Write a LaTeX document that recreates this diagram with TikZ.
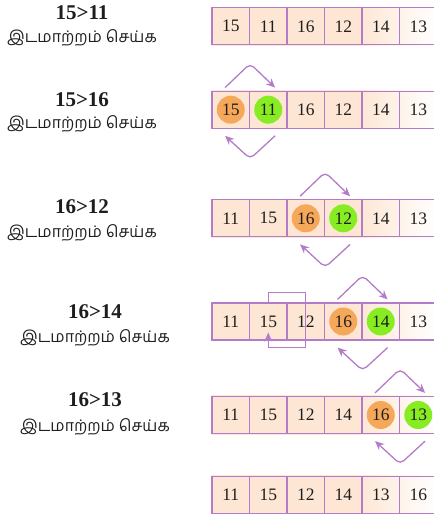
\documentclass[tikz,border=0pt]{standalone}
\usepackage{fontspec}
\setmainfont{Liberation Serif}
\newfontfamily\tamilfont[Script=Tamil]{Hind Madurai}
\usetikzlibrary{arrows.meta,calc}
\definecolor{Edge}{HTML}{B47CC8}
\definecolor{Peach}{HTML}{FDE6D3}
\definecolor{Hot}{HTML}{F6A85A}
\definecolor{Cool}{HTML}{88EC22}
\definecolor{Ink}{HTML}{1E1E1E}
\pgfdeclarehorizontalshading{rowfade}{100bp}{color(0bp)=(Peach); color(57bp)=(Peach); color(75bp)=(white); color(100bp)=(white)}
\pgfdeclarelayer{back}
\pgfdeclarelayer{disc}
\pgfsetlayers{back,disc,main}
\tikzset{
  cell/.style={draw=Edge,line width=1.2pt,minimum width=37.5pt,minimum height=37pt,inner sep=0pt,text=Ink,font=\fontsize{17.5}{20}\selectfont},
  hot/.style={circle,fill=Hot,minimum size=28pt,inner sep=0pt},
  cool/.style={circle,fill=Cool,minimum size=28pt,inner sep=0pt},
  cmp/.style={text=Ink,font=\bfseries\fontsize{21}{24}\selectfont},
  note/.style={text=Ink,font=\tamilfont\fontsize{16}{19}\selectfont},
  swaparrow/.style={-{Stealth[length=9pt,width=8pt]},draw=Edge,line width=1.3pt,rounded corners=5pt},
  loopback/.style={-{Stealth[length=9pt,width=8pt]},draw=Edge,line width=1.3pt}
}

\begin{document}
\begin{tikzpicture}[x=1pt,y=-1pt]
  \useasboundingbox (0,0) rectangle (433,518);

  % the six rows of the list
  \foreach \r/\y/\vals in {1/26.3/{15,11,16,12,14,13},2/109.7/{15,11,16,12,14,13},
      3/218.3/{11,15,16,12,14,13},4/321.5/{11,15,12,16,14,13},
      5/415/{11,15,12,14,16,13},6/494.7/{11,15,12,14,13,16}}
    \foreach \v [count=\k] in \vals
      \node[cell] (c\r\k) at ({212+37.5*(\k-0.5)},\y) {\v};

  \begin{pgfonlayer}{back}
    \foreach \r in {1,...,6}
      \shade[shading=rowfade] (c\r1.north west) rectangle (c\r6.south east);
  \end{pgfonlayer}

  % compared pair
  \begin{pgfonlayer}{disc}
    \node[hot] (h2) at (c21) {};
    \node[cool] (g2) at (c22) {};
    \node[hot] (h3) at (c33) {};
    \node[cool] (g3) at (c34) {};
    \node[hot] (h4) at (c44) {};
    \node[cool] (g4) at (c45) {};
    \node[hot] (h5) at (c55) {};
    \node[cool] (g5) at (c56) {};
  \end{pgfonlayer}

  % labels
  \node[cmp] (q1) at (82,12.5) {15>11};
  \node[note] (n1) at (82,38) {இடமாற்றம் செய்க};
  \node[cmp] (q2) at (82,99.7) {15>16};
  \node[note] (n2) at (82,123.5) {இடமாற்றம் செய்க};
  \node[cmp] (q3) at (82,206.7) {16>12};
  \node[note] (n3) at (82,233) {இடமாற்றம் செய்க};
  \node[cmp] (q4) at (95,312) {16>14};
  \node[note] (n4) at (95,338) {இடமாற்றம் செய்க};
  \node[cmp] (q5) at (95,400) {16>13};
  \node[note] (n5) at (95,427) {இடமாற்றம் செய்க};

  % swaps
  \draw[swaparrow] ([shift={(-25pt,3pt)}]c21.north east) -- ([yshift=27pt]c21.north east) -- ([shift={(25pt,3pt)}]c21.north east);
  \draw[swaparrow] ([shift={(25pt,-7pt)}]c21.south east) -- ([yshift=-30pt]c21.south east) -- ([shift={(-25pt,-7pt)}]c21.south east);
  \draw[swaparrow] ([shift={(-25pt,3pt)}]c33.north east) -- ([yshift=27pt]c33.north east) -- ([shift={(25pt,3pt)}]c33.north east);
  \draw[swaparrow] ([shift={(25pt,-7pt)}]c33.south east) -- ([yshift=-30pt]c33.south east) -- ([shift={(-25pt,-7pt)}]c33.south east);
  \draw[swaparrow] ([shift={(-25pt,3pt)}]c44.north east) -- ([yshift=27pt]c44.north east) -- ([shift={(25pt,3pt)}]c44.north east);
  \draw[swaparrow] ([shift={(25pt,-7pt)}]c44.south east) -- ([yshift=-30pt]c44.south east) -- ([shift={(-25pt,-7pt)}]c44.south east);
  \draw[swaparrow] ([shift={(-25pt,3pt)}]c55.north east) -- ([yshift=27pt]c55.north east) -- ([shift={(25pt,3pt)}]c55.north east);
  \draw[swaparrow] ([shift={(25pt,-7pt)}]c55.south east) -- ([yshift=-30pt]c55.south east) -- ([shift={(-25pt,-7pt)}]c55.south east);
  \draw[loopback] (c42.north) -- ([yshift=10pt]c42.north) -| ([yshift=-7pt]c43.south) -| ([yshift=8pt]c42.south);
\end{tikzpicture}
\end{document}
